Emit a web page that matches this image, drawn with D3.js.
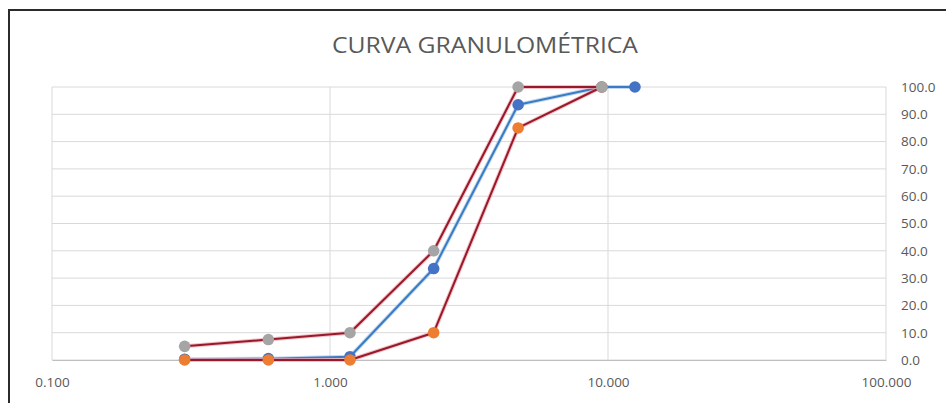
<!DOCTYPE html>
<html>
  <head>
    <meta charset="utf-8" />
    <title>Curva granulométrica</title>
    <script src="https://d3js.org/d3.v7.min.js"></script>
    <style>
      body {
        margin: 0;
        background: #fff;
        font-family: "Open Sans", sans-serif;
      }
      svg {
        display: block;
      }
    </style>
  </head>
  <body>
    <svg width="946" height="403"></svg>

    <script>
      // sieve openings (mm) and % passing
      const sieves = [12.5, 9.5, 4.75, 2.36, 1.18, 0.6, 0.3];
      const sample = [100, 100, 93.5, 33.5, 1.2, 0.5, 0.3];
      const lowerLimit = [null, 100, 85, 10, 0, 0, 0];
      const upperLimit = [null, 100, 100, 40, 10, 7.5, 5];
      const xTicks = [0.1, 1, 10, 100];
      const yTicks = [0, 10, 20, 30, 40, 50, 60, 70, 80, 90, 100];

      const svg = d3.select("svg");

      const margin = { top: 87, right: 60, bottom: 43, left: 52 };
      const width = 946, height = 403;
      const innerWidth = width - margin.left - margin.right;
      const innerHeight = height - margin.top - margin.bottom;

      // outer frame, only left and top edges are inside the picture
      svg.append("path")
        .attr("d", "M9,403V10H946")
        .attr("fill", "none")
        .attr("stroke", "#2b2b2b")
        .attr("stroke-width", 2);

      svg.append("text")
        .attr("x", 485).attr("y", 53)
        .attr("text-anchor", "middle")
        .attr("font-size", 21)
        .attr("fill", "#595959")
        .attr("textLength", 306)
        .attr("lengthAdjust", "spacingAndGlyphs")
        .text("CURVA GRANULOMÉTRICA");

      const g = svg.append("g")
        .attr("transform", `translate(${margin.left}, ${margin.top})`);

      const x = d3.scaleLog().domain([0.1, 100]).range([0, innerWidth]);
      const y = d3.scaleLinear().domain([0, 100]).range([innerHeight, 0]);

      // grid
      g.append("g")
        .selectAll("line")
        .data(yTicks)
        .join("line")
        .attr("x1", 0).attr("x2", innerWidth)
        .attr("y1", d => y(d)).attr("y2", d => y(d))
        .attr("stroke", "#d9d9d9");

      g.append("g")
        .selectAll("line")
        .data(xTicks)
        .join("line")
        .attr("x1", d => x(d)).attr("x2", d => x(d))
        .attr("y1", 0).attr("y2", innerHeight)
        .attr("stroke", "#d9d9d9");

      // axes
      const xAxis = d3.axisBottom(x).tickValues(xTicks)
        .tickFormat(d3.format(".3f")).tickSize(0).tickPadding(17);
      const yAxis = d3.axisRight(y).tickValues(yTicks)
        .tickFormat(d3.format(".1f")).tickSize(0).tickPadding(15);

      const styleAxis = a => {
        a.attr("font-size", 13.5)
          .attr("font-family", "'Open Sans', sans-serif")
          .attr("fill", "#595959");
        a.selectAll(".tick line").remove();
        a.selectAll(".tick text").attr("fill", "#595959");
      };

      g.append("g")
        .attr("transform", `translate(0, ${innerHeight})`)
        .call(xAxis)
        .call(styleAxis)
        .call(a => a.select(".domain").attr("stroke", "#bfbfbf").attr("fill", "none"));

      g.append("g")
        .attr("transform", `translate(${innerWidth}, 0)`)
        .call(yAxis)
        .call(styleAxis)
        .call(a => a.select(".domain").remove());

      // series
      const series = [
        { values: sample, line: "#3a7cc4", halo: "#a9c8e8", dot: "#4472c4" },
        { values: lowerLimit, line: "#961a2a", halo: "#f2a3ab", dot: "#ed7d31" },
        { values: upperLimit, line: "#961a2a", halo: "#f2a3ab", dot: "#a5a5a5" }
      ];

      const line = d3.line()
        .defined(d => d.v != null)
        .x(d => x(d.s))
        .y(d => y(d.v));

      series.forEach(sr => {
        const pts = sieves.map((s, i) => ({ s, v: sr.values[i] }));
        g.append("path")
          .datum(pts)
          .attr("fill", "none")
          .attr("stroke", sr.halo)
          .attr("stroke-opacity", 0.7)
          .attr("stroke-width", 4)
          .attr("stroke-linejoin", "round")
          .attr("d", line);
        g.append("path")
          .datum(pts)
          .attr("fill", "none")
          .attr("stroke", sr.line)
          .attr("stroke-width", 2)
          .attr("stroke-linejoin", "round")
          .attr("d", line);
        g.append("g")
          .selectAll("circle")
          .data(pts.filter(d => d.v != null))
          .join("circle")
          .attr("cx", d => x(d.s))
          .attr("cy", d => y(d.v))
          .attr("r", 5.8)
          .attr("fill", sr.dot);
      });
    </script>
  </body>
</html>
